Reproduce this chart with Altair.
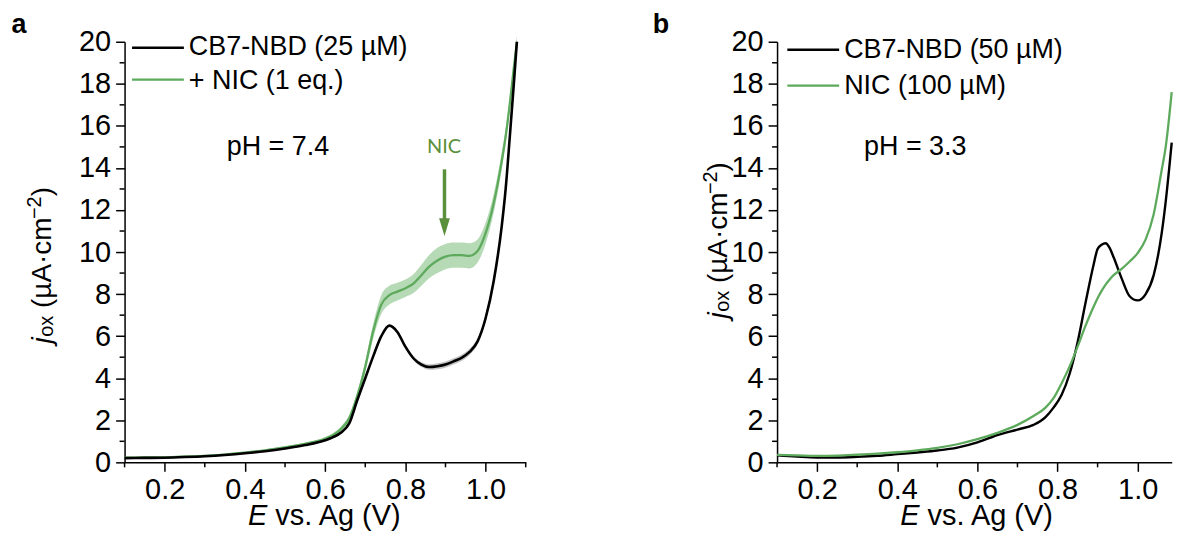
import altair as alt
import pandas as pd

FONT = "Liberation Sans"
GREEN = "#5DAA5D"
ANN_GREEN = "#5A8F3C"

# ---------------- data ----------------
# panel a: pH 7.4
xa = [0.10, 0.15, 0.20, 0.25, 0.30, 0.35, 0.40, 0.45, 0.50, 0.55, 0.60, 0.62, 0.64,
      0.66, 0.68, 0.70, 0.72, 0.74, 0.76, 0.78, 0.80, 0.82, 0.84, 0.86, 0.88, 0.90,
      0.92, 0.94, 0.96, 0.98, 1.00, 1.02, 1.04, 1.05, 1.06, 1.07, 1.078]
a_cb7 = [0.20, 0.21, 0.22, 0.25, 0.29, 0.35, 0.43, 0.53, 0.66, 0.82, 1.05, 1.20, 1.42,
         1.85, 2.95, 4.00, 5.05, 6.00, 6.50, 6.20, 5.50, 4.95, 4.65, 4.53, 4.57, 4.65,
         4.80, 4.97, 5.25, 5.75, 6.85, 8.60, 11.2, 13.0, 15.4, 17.9, 20.0]
a_cb7_sd = [0.03, 0.03, 0.03, 0.03, 0.03, 0.03, 0.03, 0.03, 0.04, 0.04, 0.05, 0.05, 0.05,
            0.05, 0.06, 0.06, 0.06, 0.06, 0.07, 0.08, 0.09, 0.10, 0.12, 0.13, 0.14, 0.15,
            0.15, 0.15, 0.15, 0.15, 0.18, 0.22, 0.28, 0.30, 0.30, 0.30, 0.30]
a_nic = [0.22, 0.23, 0.24, 0.27, 0.31, 0.37, 0.46, 0.57, 0.71, 0.88, 1.12, 1.30, 1.60,
         2.10, 3.15, 4.55, 6.25, 7.50, 7.95, 8.12, 8.28, 8.50, 8.90, 9.32, 9.60, 9.78,
         9.85, 9.85, 9.82, 10.05, 10.9, 12.3, 14.3, 15.5, 17.0, 18.7, 20.0]
a_nic_sd = [0.05, 0.05, 0.05, 0.05, 0.05, 0.05, 0.05, 0.05, 0.05, 0.06, 0.08, 0.10, 0.12,
            0.15, 0.20, 0.25, 0.35, 0.45, 0.45, 0.42, 0.42, 0.45, 0.50, 0.55, 0.60, 0.60,
            0.60, 0.60, 0.60, 0.55, 0.50, 0.45, 0.40, 0.35, 0.30, 0.25, 0.20]

# panel b: pH 3.3
xb = [0.10, 0.15, 0.20, 0.25, 0.30, 0.35, 0.40, 0.45, 0.50, 0.55, 0.60, 0.65, 0.70,
      0.74, 0.77, 0.79, 0.81, 0.83, 0.85, 0.87, 0.89, 0.90, 0.91, 0.92, 0.93, 0.94,
      0.96, 0.98, 1.00, 1.02, 1.04, 1.06, 1.07, 1.085]
b_cb7 = [0.33, 0.27, 0.23, 0.23, 0.26, 0.31, 0.39, 0.47, 0.56, 0.70, 0.95, 1.30, 1.56,
         1.78, 2.15, 2.60, 3.20, 4.20, 5.70, 7.60, 9.40, 10.15, 10.35, 10.42, 10.20, 9.75,
         8.75, 7.90, 7.70, 8.00, 8.90, 10.9, 12.4, 15.2]
b_nic = [0.35, 0.33, 0.31, 0.32, 0.36, 0.41, 0.48, 0.57, 0.69, 0.86, 1.10, 1.40, 1.78,
         2.20, 2.60, 3.05, 3.75, 4.55, 5.50, 6.50, 7.40, 7.80, 8.15, 8.45, 8.70, 8.90,
         9.20, 9.55, 9.95, 10.6, 11.8, 13.9, 15.0, 17.6]

x_major = [0.2, 0.4, 0.6, 0.8, 1.0]
y_major = list(range(0, 21, 2))
x_minor_a = [0.1, 0.3, 0.5, 0.7, 0.9, 1.1]
x_minor_b = [0.1, 0.3, 0.5, 0.7, 0.9]
y_minor = list(range(1, 20, 2))

legend_a = ["CB7-NBD (25 µM)", "+ NIC (1 eq.)"]
legend_b = ["CB7-NBD (50 µM)", "NIC (100 µM)"]
ph_a = "pH = 7.4"
ph_b = "pH = 3.3"

# ---------------- layout ----------------
H = 422
WA = 402.5
WB = 396
TICK = 29
LEG = 27

ARIAL = {' ': .278, '(': .333, ')': .333, 'µ': .576, 'A': .667, '·': .278,
         'c': .5, 'm': .833, 'o': .556, 'x': .5, 'j': .222, '−': .584, '2': .556,
         'E': .667, 'v': .5, 's': .5, '.': .278, 'g': .556, 'V': .667}


def tw(s, size):
    return sum(ARIAL.get(c, 0.556) for c in s) * size


def axes(xdom):
    common = dict(labelFont=FONT, labelFontSize=TICK, labelColor="black", tickSize=9,
                  tickWidth=1.5, tickColor="black", domainWidth=1.5, domainColor="black",
                  grid=False, title=None, labelFlush=False)
    X = lambda f: alt.X(f, scale=alt.Scale(domain=xdom, nice=False, zero=False),
                        axis=alt.Axis(values=x_major, format=".1f", labelPadding=4, **common))
    Y = lambda f: alt.Y(f, scale=alt.Scale(domain=[0, 20], nice=False, zero=False),
                        axis=alt.Axis(values=y_major, labelPadding=5, **common))
    return X, Y


def txt(text, x, y, size=LEG, color="black", **kw):
    return alt.Chart(pd.DataFrame({"t": [text]})).mark_text(
        font=kw.pop("font", FONT), fontSize=size, color=color, align=kw.pop("align", "left"),
        baseline=kw.pop("baseline", "alphabetic"), **kw
    ).encode(text="t:N", x=alt.value(x), y=alt.value(y))


def seg(x1, x2, y, color, sw):
    return alt.Chart(pd.DataFrame({"k": [0]})).mark_rule(color=color, strokeWidth=sw).encode(
        x=alt.value(x1), x2=alt.value(x2), y=alt.value(y))


def ytitle(start_y, base_x):
    main = "(µA·cm"
    parts = []
    parts.append(txt("j", base_x, start_y + tw("j", 28) + 0.5, 28, angle=270, fontStyle="italic"))
    parts.append(txt("ox", base_x + 2, start_y, 20, angle=270))
    s1 = start_y - tw("ox", 20) - tw(" ", 28)
    parts.append(txt(main, base_x, s1, 28, angle=270))
    s2 = s1 - tw(main, 28)
    parts.append(txt("−2", base_x - 10, s2, 20, angle=270))
    s3 = s2 - tw("−2", 20)
    parts.append(txt(")", base_x, s3, 28, angle=270))
    return parts


def xtitle(cx, base_y):
    rest = "vs. Ag (V)"
    total = tw("E ", TICK) + tw(rest, TICK)
    x0 = cx - total / 2
    return [txt("E", x0, base_y, TICK, fontStyle="italic"),
            txt(rest, x0 + tw("E ", TICK), base_y, TICK)]


def minor_ticks(X, Y, xminor):
    mx = alt.Chart(pd.DataFrame({"v": xminor})).mark_rule(color="black", strokeWidth=1.5).encode(
        x=X("v:Q"), y=alt.value(H), y2=alt.value(H + 5))
    my = alt.Chart(pd.DataFrame({"w": y_minor})).mark_rule(color="black", strokeWidth=1.5).encode(
        y=Y("w:Q"), x=alt.value(-5), x2=alt.value(0))
    return [mx, my]


# ---------------- panel a ----------------
Xa, Ya = axes([0.1, 1.1])
dfa = pd.DataFrame({"x": xa, "cb7": a_cb7, "nic": a_nic})
dfa["cb7_lo"] = [v - s for v, s in zip(a_cb7, a_cb7_sd)]
dfa["cb7_hi"] = [v + s for v, s in zip(a_cb7, a_cb7_sd)]
dfa["nic_lo"] = [v - s for v, s in zip(a_nic, a_nic_sd)]
dfa["nic_hi"] = [v + s for v, s in zip(a_nic, a_nic_sd)]

base_a = alt.Chart(dfa)
nic_band = base_a.mark_area(color=GREEN, opacity=0.45, interpolate="monotone").encode(
    x=Xa("x:Q"), y=Ya("nic_lo:Q"), y2="nic_hi:Q")
cb7_band = base_a.mark_area(color="#555555", opacity=0.35, interpolate="monotone").encode(
    x=Xa("x:Q"), y=Ya("cb7_lo:Q"), y2="cb7_hi:Q")
nic_line = base_a.mark_line(color=GREEN, strokeWidth=2.3, interpolate="monotone").encode(
    x=Xa("x:Q"), y=Ya("nic:Q"))
cb7_line = base_a.mark_line(color="black", strokeWidth=2.6, interpolate="monotone").encode(
    x=Xa("x:Q"), y=Ya("cb7:Q"))

anchor = alt.Chart(pd.DataFrame({"k": [0]})).mark_rule(opacity=0, strokeWidth=1, color="white").encode(
    x=alt.value(-125), x2=alt.value(-125), y=alt.value(-40.5), y2=alt.value(-40))

arrow_shaft = alt.Chart(pd.DataFrame({"k": [0]})).mark_rule(color=ANN_GREEN, strokeWidth=3.5).encode(
    x=alt.value(321), y=alt.value(128), y2=alt.value(180))
arrow_head = alt.Chart(pd.DataFrame({"k": [0]})).mark_point(
    shape="M-0.6,-1L0.6,-1L0,1Z", filled=True, color=ANN_GREEN, opacity=1, size=324).encode(
    x=alt.value(321), y=alt.value(186))

layers_a = [anchor, nic_band, nic_line, cb7_band, cb7_line] + minor_ticks(Xa, Ya, x_minor_a) + [
    seg(7.5, 59.5, 6, "black", 2.6), seg(7.5, 59.5, 38, GREEN, 2.3),
    txt(legend_a[0], 64.5, 13), txt(legend_a[1], 64.5, 47),
    txt(ph_a, 102.5, 114),
    txt("NIC", 320.5, 112, 20, ANN_GREEN, font="Lato", align="center"),
    arrow_shaft, arrow_head,
    txt("a", -113.5, -9, 27, fontWeight="bold"),
] + ytitle(296, -73.5) + xtitle(WA / 2, 485)

panel_a = alt.layer(*layers_a).properties(width=WA, height=H)

# ---------------- panel b ----------------
Xb, Yb = axes([0.1, 1.085])
dfb = pd.DataFrame({"x": xb, "cb7": b_cb7, "nic": b_nic})
base_b = alt.Chart(dfb)
b_nic_line = base_b.mark_line(color=GREEN, strokeWidth=2.3, interpolate="monotone").encode(
    x=Xb("x:Q"), y=Yb("nic:Q"))
b_cb7_line = base_b.mark_line(color="black", strokeWidth=2.4, interpolate="monotone").encode(
    x=Xb("x:Q"), y=Yb("cb7:Q"))

layers_b = [b_cb7_line, b_nic_line] + minor_ticks(Xb, Yb, x_minor_b) + [
    seg(10.3, 62.3, 8, "black", 2.6), seg(10.3, 62.3, 44, GREEN, 2.3),
    txt(legend_b[0], 67.3, 16), txt(legend_b[1], 67.3, 52),
    txt(ph_b, 87.3, 114),
    txt("b", -124.7, -9, 27, fontWeight="bold"),
] + ytitle(271, -50) + xtitle((0.5 / 0.985) * WB, 485)

panel_b = alt.layer(*layers_b).properties(width=WB, height=H)

chart = alt.hconcat(panel_a, panel_b, spacing=251.7, bounds="flush").properties(
    padding={"left": 0, "top": 0, "right": 0, "bottom": 0}
).configure_view(stroke=None)

chart.save("out.html", embed_options={"renderer": "svg", "actions": False})
